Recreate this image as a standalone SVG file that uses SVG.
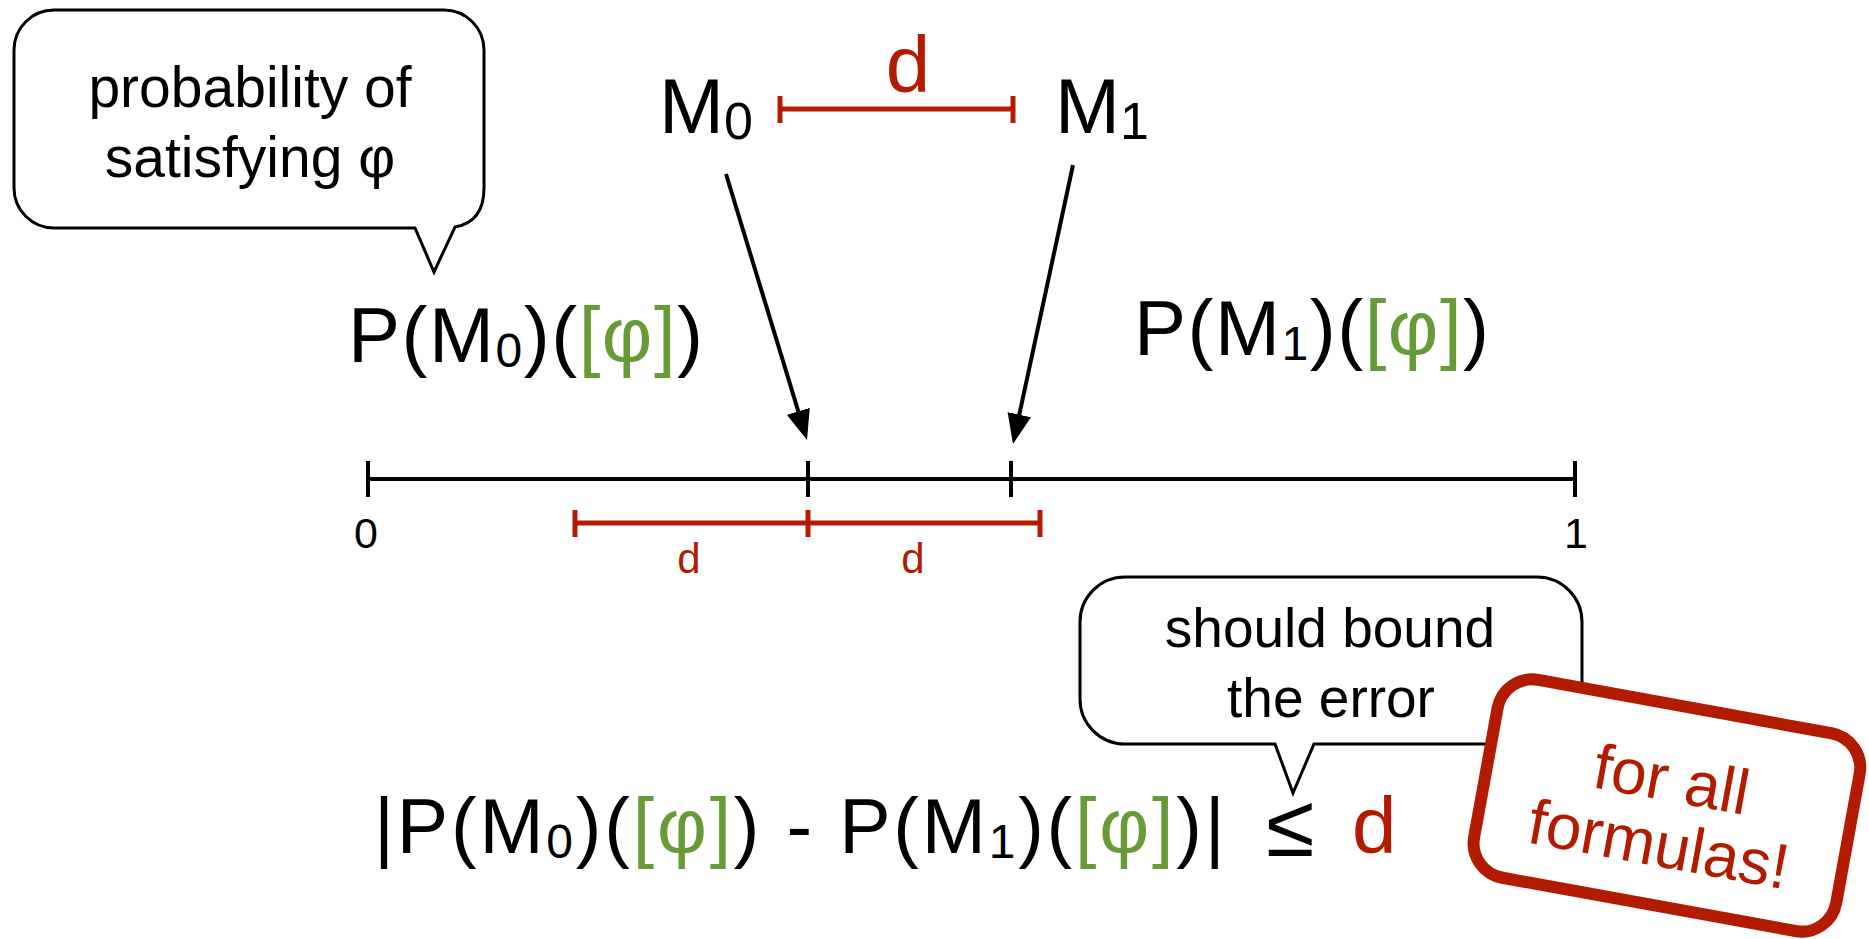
<svg xmlns="http://www.w3.org/2000/svg" width="1869" height="939" viewBox="0 0 1869 939">
<defs>
<style>
text{font-family:"Liberation Sans",Arial,sans-serif;fill:#000}
.red{fill:#B31B00}
.green{fill:#679B38}
.bubble{fill:#fff;stroke:#000;stroke-width:3;stroke-linejoin:miter}
.blk{stroke:#000;stroke-width:4;fill:none}
.rbar{stroke:#B31B00;stroke-width:5;fill:none}
.big{font-size:78px}
.sub{font-size:48px}
</style>
<marker id="ah" viewBox="0 0 30 24" refX="10" refY="12" markerWidth="30" markerHeight="24" markerUnits="userSpaceOnUse" orient="auto">
<path d="M0,0 L30,12 L0,24 Z" fill="#000"/>
</marker>
</defs>
<rect width="1869" height="939" fill="#fff"/>

<g id="callout-probability">
<path class="bubble" d="M54,10 H444 A40,40 0 0 1 484,50 V188 Q484,222 455,227 L434,272 L415,228 H54 A40,40 0 0 1 14,188 V50 A40,40 0 0 1 54,10 Z"/>
<text x="250" y="107" font-size="57" text-anchor="middle">probability of</text>
<text x="250" y="177" font-size="57" text-anchor="middle">satisfying φ</text>
</g>

<g id="node-M0">
<text class="big" x="659" y="133">M<tspan font-size="52px" dy="6">0</tspan></text>
</g>
<g id="node-M1">
<text class="big" x="1055" y="133">M<tspan font-size="52px" dy="6">1</tspan></text>
</g>

<g id="distance-d">
<path class="rbar" d="M780,109 H1013 M780,96 V123 M1013,96 V123"/>
<text class="red" x="908" y="92" font-size="80" text-anchor="middle">d</text>
</g>

<g id="label-PM0">
<text class="big" x="348" y="362" letter-spacing="1.5">P(M<tspan class="sub" dy="5">0</tspan><tspan dy="-5">)(</tspan><tspan class="green">[φ]</tspan>)</text>
</g>
<g id="label-PM1">
<text class="big" x="1134" y="355" letter-spacing="1.5">P(M<tspan class="sub" dy="5">1</tspan><tspan dy="-5">)(</tspan><tspan class="green">[φ]</tspan>)</text>
</g>

<g id="axis">
<path class="blk" d="M368,479 H1575 M368,461 V497 M808,461 V497 M1011,461 V497 M1575,461 V497"/>
<text x="366" y="548" font-size="43" text-anchor="middle">0</text>
<text x="1576" y="548" font-size="43" text-anchor="middle">1</text>
</g>

<g id="interval-d">
<path class="rbar" d="M575,523 H1040 M575,510 V537 M808,510 V537 M1040,510 V537"/>
<text class="red" x="689" y="573" font-size="42" text-anchor="middle">d</text>
<text class="red" x="913" y="573" font-size="42" text-anchor="middle">d</text>
</g>

<g id="connectors">
<line class="blk" x1="726" y1="174" x2="801.2" y2="420.9" marker-end="url(#ah)"/>
<line class="blk" x1="1073" y1="165" x2="1017.2" y2="424.4" marker-end="url(#ah)"/>
</g>

<g id="callout-error">
<path class="bubble" d="M1125,577 H1537 A45,45 0 0 1 1582,622 V699 A45,45 0 0 1 1537,744 H1314 L1293,793 L1275,744 H1125 A45,45 0 0 1 1080,699 V622 A45,45 0 0 1 1125,577 Z"/>
<text x="1330" y="647" font-size="55" text-anchor="middle">should bound</text>
<text x="1331" y="717" font-size="55" text-anchor="middle">the error</text>
</g>

<g id="formula">
<text class="big" x="374" y="853" letter-spacing="2.8" style="font-size:77px">|P(M<tspan class="sub" dy="5">0</tspan><tspan dy="-5">)(</tspan><tspan class="green">[φ]</tspan>) - P(M<tspan class="sub" dy="5">1</tspan><tspan dy="-5">)(</tspan><tspan class="green">[φ]</tspan>)|</text>
<text x="1266" y="856" style="font-size:88px">≤</text>
<text class="red" x="1352" y="853" style="font-size:80px">d</text>
</g>

<g id="stamp-for-all" transform="translate(1667,805) rotate(10.3)">
<rect x="-184" y="-100" width="368" height="201" rx="35" fill="#fff" stroke="#B31B00" stroke-width="12"/>
<text class="red" x="0" y="-4" font-size="64" text-anchor="middle">for all</text>
<text class="red" x="-1" y="62" font-size="64" text-anchor="middle">formulas!</text>
</g>
</svg>
